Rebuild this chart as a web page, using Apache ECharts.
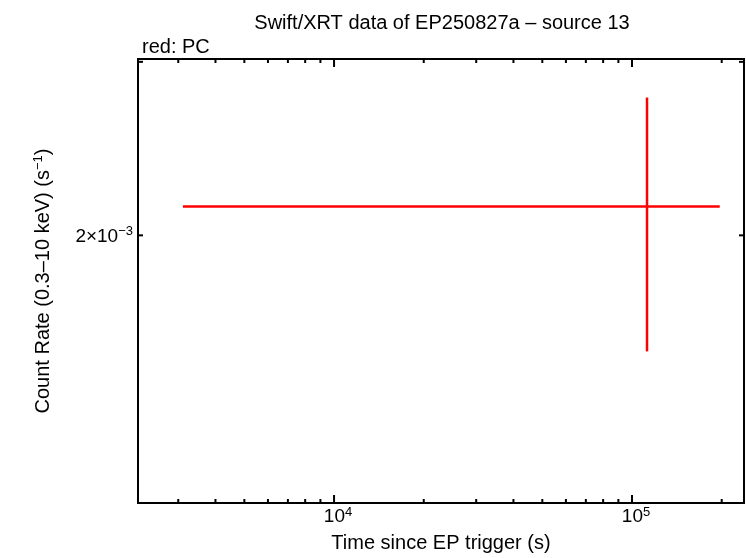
<!DOCTYPE html>
<html><head><meta charset="utf-8">
<script src="https://cdn.jsdelivr.net/npm/echarts@6/dist/echarts.min.js"></script>
<style>html,body{margin:0;padding:0;background:#fff}#c{width:746px;height:558px}</style>
</head><body><div id="c"></div>
<script>
// data
const timeVals = [112300];
const timeLo = [3110];
const timeHi = [197000];
const rateVals = [2.14e-3];
const rateLo = [1.525e-3];
const rateHi = [2.76e-3];
const xMajorTicks = [1e4, 1e5];
const xMajorLabels = ['10{s|4}', '10{s|5}'];
const xMinorTicks = [3000,4000,5000,6000,7000,8000,9000,20000,30000,40000,50000,60000,70000,80000,90000,200000];
const yTicks = [2e-3, 3e-3];
const yTickLabels = ['2×10{s|−3}', ''];
const X_MIN = 2198, X_MAX = 237600, Y_MIN = 1.07e-3, Y_MAX = 3.02e-3;
const FONT = 'Liberation Sans';
const SUP = {fontSize:13,verticalAlign:'top',padding:[0,0,9,0],fontFamily:FONT};

const chart = echarts.init(document.getElementById('c'));
const errData = timeVals.map((t,i)=>[t, timeLo[i], timeHi[i], rateVals[i], rateLo[i], rateHi[i]]);

function tickItem(type){
  return function(params, api){
    const cs = params.coordSys;
    const v = api.value(0), major = api.value(1);
    const ch = [];
    if(type==='x'){
      const px = api.coord([v, Y_MIN])[0];
      const L = major ? 8 : 4;
      ch.push({type:'line',shape:{x1:px,y1:cs.y+cs.height,x2:px,y2:cs.y+cs.height-L},style:{stroke:'#000',lineWidth:2}});
      ch.push({type:'line',shape:{x1:px,y1:cs.y,x2:px,y2:cs.y+L},style:{stroke:'#000',lineWidth:2}});
      if(major){
        ch.push({type:'text',x:px+4,y:cs.y+cs.height+3,style:{text:xMajorLabels[api.value(2)],font:'19px '+FONT,fill:'#000',align:'center',verticalAlign:'top',rich:{s:SUP}}});
      }
    } else {
      const py = api.coord([X_MIN, v])[1];
      const L = 5;
      ch.push({type:'line',shape:{x1:cs.x,y1:py,x2:cs.x+L,y2:py},style:{stroke:'#000',lineWidth:2}});
      ch.push({type:'line',shape:{x1:cs.x+cs.width,y1:py,x2:cs.x+cs.width-L,y2:py},style:{stroke:'#000',lineWidth:2}});
      const lab = yTickLabels[api.value(2)];
      if(lab) ch.push({type:'text',x:cs.x-5,y:py+1,style:{text:lab,font:'19px '+FONT,fill:'#000',align:'right',verticalAlign:'middle',rich:{s:SUP}}});
    }
    return {type:'group',children:ch};
  };
}

const xTickData = xMajorTicks.map((v,i)=>[v,1,i]).concat(xMinorTicks.map(v=>[v,0,0]));
const yTickData = yTicks.map((v,i)=>[v,0,i]);

chart.setOption({
  animation:false,
  backgroundColor:'#fff',
  title:[
    {text:'Swift/XRT data of EP250827a – source 13',left:437,top:8,textAlign:'center',textStyle:{fontFamily:FONT,fontSize:20,fontWeight:'normal',color:'#000'}},
    {text:'red: PC',left:137,top:32,textStyle:{fontFamily:FONT,fontSize:20,fontWeight:'normal',color:'#000'}}
  ],
  grid:{left:138,right:2,top:59,bottom:51,show:true,borderColor:'#000',borderWidth:2,backgroundColor:'transparent'},
  xAxis:{type:'log',logBase:10,min:X_MIN,max:X_MAX,axisLine:{show:false},axisTick:{show:false},axisLabel:{show:false},splitLine:{show:false},
    name:'Time since EP trigger (s)',nameLocation:'middle',nameGap:30,nameTextStyle:{fontFamily:FONT,fontSize:20,color:'#000'}},
  yAxis:{type:'log',logBase:10,min:Y_MIN,max:Y_MAX,axisLine:{show:false},axisTick:{show:false},axisLabel:{show:false},splitLine:{show:false},
    name:'Count Rate (0.3–10 keV) (s{s|−1})',nameLocation:'middle',nameGap:84,nameTextStyle:{fontFamily:FONT,fontSize:20,color:'#000',rich:{s:SUP}}},
  series:[
    {type:'custom',data:errData,clip:true,renderItem:function(params,api){
      const c = api.coord([api.value(0),api.value(3)]);
      const xl = api.coord([api.value(1),api.value(3)])[0], xh = api.coord([api.value(2),api.value(3)])[0];
      const yl = api.coord([api.value(0),api.value(4)])[1], yh = api.coord([api.value(0),api.value(5)])[1];
      const st={stroke:'#ff0000',lineWidth:2.5};
      return {type:'group',children:[
        {type:'line',shape:{x1:xl,y1:c[1],x2:xh,y2:c[1]},style:st},
        {type:'line',shape:{x1:c[0],y1:yl,x2:c[0],y2:yh},style:st}]};
    }},
    {type:'custom',data:xTickData,renderItem:tickItem('x'),silent:true,clip:false},
    {type:'custom',data:yTickData,renderItem:tickItem('y'),silent:true,clip:false}
  ]
});
</script></body></html>
